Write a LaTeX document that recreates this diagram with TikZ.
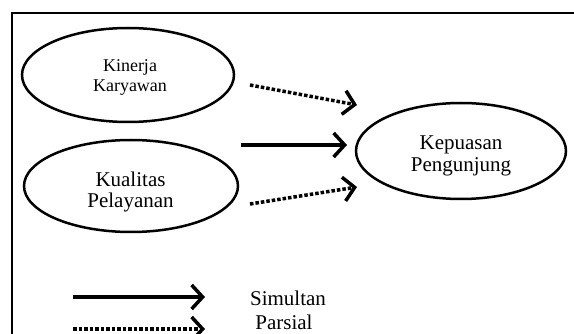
\documentclass[tikz,border=0pt]{standalone}
\usepackage{fontspec}
\setmainfont{Liberation Serif}
\usetikzlibrary{shapes.geometric,arrows.meta}
\begin{document}
\begin{tikzpicture}[x=1pt,y=-1pt,
  oval/.style={draw, ellipse, line width=2.5pt, inner sep=0pt},
  lbl/.style={anchor=base, inner sep=0pt},
  big/.style={font=\fontsize{21}{24}\selectfont},
  small/.style={font=\fontsize{18}{20}\selectfont},
  tip/.style={-{Straight Barb[length=11pt,width=24pt,line width=3.5pt]}},
  simul/.style={line width=3.5pt, tip},
  pars/.style={line width=3.5pt, dash pattern=on 3.5pt off 2pt, tip}]
\useasboundingbox (0,0) rectangle (574,334);
\clip (0,0) rectangle (574,334);
\draw[line width=2.5pt] (12,13) rectangle (620,380);

\node[oval, minimum width=212pt, minimum height=94pt] (kin) at (128,75) {};
\node[oval, minimum width=214pt, minimum height=92pt] (kua) at (131,186) {};
\node[oval, minimum width=210pt, minimum height=96pt] (kep) at (461,151) {};

\node[lbl, small] (kin1) at (130,72) {Kinerja};
\node[lbl, small] (kin2) at (130,92) {Karyawan};
\node[lbl, big] (kua1) at (130.5,187) {Kualitas};
\node[lbl, big] (kua2) at (130.5,208) {Pelayanan};
\node[lbl, big] (kep1) at (461,150) {Kepuasan};
\node[lbl, big] (kep2) at (461,172) {Pengunjung};

\coordinate (a1s) at (250,85);
\coordinate (a1e) at (357,105);
\coordinate (a2s) at (241,145);
\coordinate (a2e) at (347,145);
\coordinate (a3s) at (250,204);
\coordinate (a3e) at (357,187);
\draw[pars] (a1s) -- (a1e);
\draw[simul] (a2s) -- (a2e);
\draw[pars] (a3s) -- (a3e);

\coordinate (l1s) at (73,297);
\coordinate (l1e) at (205,297);
\coordinate (l2s) at (73,329);
\coordinate (l2e) at (205,329);
\draw[simul] (l1s) -- (l1e);
\draw[pars] (l2s) -- (l2e);
\node[lbl, big] (sim) at (288,306) {Simultan};
\node[lbl, big] (par) at (284,330) {Parsial};
\end{tikzpicture}
\end{document}
